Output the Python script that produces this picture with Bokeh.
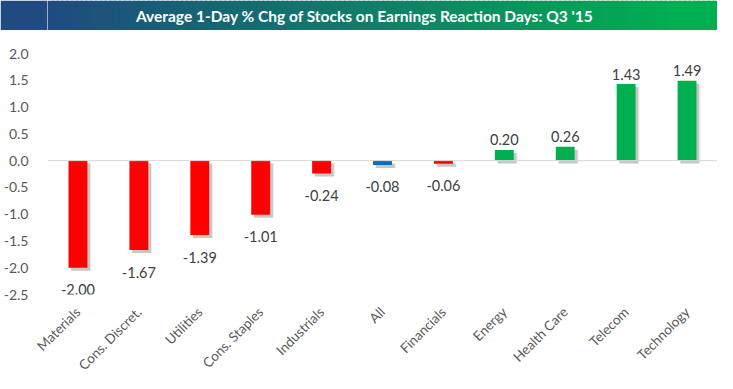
import math
from bokeh.plotting import figure
from bokeh.models import (ColumnDataSource, FixedTicker, Span, Label, FactorRange, Range1d,
                          NumeralTickFormatter)
from bokeh.layouts import column
from bokeh.transform import dodge
from bokeh.embed import file_html
from bokeh.resources import INLINE
from bokeh.core.properties import value

# ---- data ----
categories = ["Materials", "Cons. Discret.", "Utilities", "Cons. Staples", "Industrials",
              "All", "Financials", "Energy", "Health Care", "Telecom", "Technology"]
values = [-2.00, -1.67, -1.39, -1.01, -0.24, -0.08, -0.06, 0.20, 0.26, 1.43, 1.49]
y_ticks = [-2.5, -2.0, -1.5, -1.0, -0.5, 0.0, 0.5, 1.0, 1.5, 2.0]
title_text = "Average 1-Day % Chg of Stocks on Earnings Reaction Days: Q3 '15"

# ---- styles ----
RED, BLUE, GREEN = "#FF0000", "#0070C0", "#00B050"
colors = [BLUE if c == "All" else (GREEN if v > 0 else RED) for c, v in zip(categories, values)]
FONT = "Lato"
W = 717
LEFT = 40
BANNER_H = 30
CHART_H = 351
C0 = (0x1F, 0x4B, 0x80)
C1 = (0x00, 0xB0, 0x50)

# ---- banner ----
banner = figure(width=W, height=BANNER_H, x_range=Range1d(0, 1), y_range=Range1d(0, 1),
                toolbar_location=None, output_backend="svg",
                min_border_left=LEFT, min_border_right=0, min_border_top=0, min_border_bottom=0,
                x_axis_location=None, y_axis_location=None)
banner.grid.visible = False
banner.outline_line_color = None
banner.border_fill_color = "#%02x%02x%02x" % C0
N = 140
g_left = [i / N for i in range(N)]
g_right = [(i + 1) / N + 0.002 for i in range(N)]
g_cols = []
for i in range(N):
    t = (i + 0.5) / N
    t = min(1.0, t * 1.05)
    r, g, b = (round(C0[k] + (C1[k] - C0[k]) * t) for k in range(3))
    g_cols.append("#%02x%02x%02x" % (r, g, b))
banner.quad(left=g_left, right=g_right, bottom=0, top=1, fill_color=g_cols, line_color=None)
title_x = (W / 2 - LEFT + 2) / (W - LEFT)
banner.add_layout(Label(x=title_x, y=0.5, text=title_text, text_align="center",
                        text_baseline="middle", text_color="white", text_font=FONT,
                        text_font_style="bold", text_font_size="15.5px"))

# ---- chart ----
p = figure(width=W, height=CHART_H, x_range=FactorRange(*categories), y_range=Range1d(-2.5, 2.0),
           toolbar_location=None, output_backend="svg",
           min_border_left=LEFT, min_border_right=0, min_border_top=23, min_border_bottom=87)
p.grid.visible = False
p.outline_line_color = None
p.background_fill_color = "white"

dy = 0.056
src = ColumnDataSource(dict(
    cat=categories, val=values, color=colors,
    s_top=[max(v, 0) - dy for v in values],
    s_bot=[min(v, 0) - dy for v in values],
))
p.vbar(x=dodge("cat", 0.055, range=p.x_range), top="s_top", bottom="s_bot", width=0.33,
       source=src, fill_color="#000000", fill_alpha=0.07, line_color=None)
p.vbar(x=dodge("cat", 0.045, range=p.x_range), top="s_top", bottom="s_bot", width=0.31,
       source=src, fill_color="#000000", fill_alpha=0.16, line_color=None)

p.add_layout(Span(location=0, dimension="width", line_color="#D9D9D9", line_width=1))

p.vbar(x="cat", top="val", bottom=0, width=0.31, source=src, fill_color="color", line_color=None)

neg = [(c, v) for c, v in zip(categories, values) if v < 0]
pos = [(c, v) for c, v in zip(categories, values) if v >= 0]
neg_src = ColumnDataSource(dict(cat=[c for c, _ in neg], val=[v for _, v in neg],
                                label=["%.2f" % v for _, v in neg]))
pos_src = ColumnDataSource(dict(cat=[c for c, _ in pos], val=[v for _, v in pos],
                                label=["%.2f" % v for _, v in pos]))
for s, off in ((neg_src, 22), (pos_src, -10)):
    p.text(x="cat", y="val", text="label", source=s, text_align="center",
           text_baseline="alphabetic", y_offset=off, text_font=value(FONT),
           text_font_size="14.5px", text_color="#404040")

p.yaxis.ticker = FixedTicker(ticks=y_ticks)
p.yaxis.formatter = NumeralTickFormatter(format="0.0")
p.yaxis.axis_line_color = None
p.yaxis.major_tick_line_color = None
p.yaxis.minor_tick_line_color = None
p.yaxis.major_label_standoff = 13
p.yaxis.major_label_text_color = "#595959"
p.yaxis.major_label_text_font = FONT
p.yaxis.major_label_text_font_size = "14px"

p.xaxis.axis_line_color = None
p.xaxis.major_tick_line_color = None
p.xaxis.major_label_orientation = math.pi / 4
p.xaxis.major_label_standoff = 9
p.xaxis.major_label_text_color = "#595959"
p.xaxis.major_label_text_font = FONT
p.xaxis.major_label_text_font_size = "13.5px"

layout = column(banner, p, spacing=0)
open("out.html", "w").write(file_html(layout, INLINE))
